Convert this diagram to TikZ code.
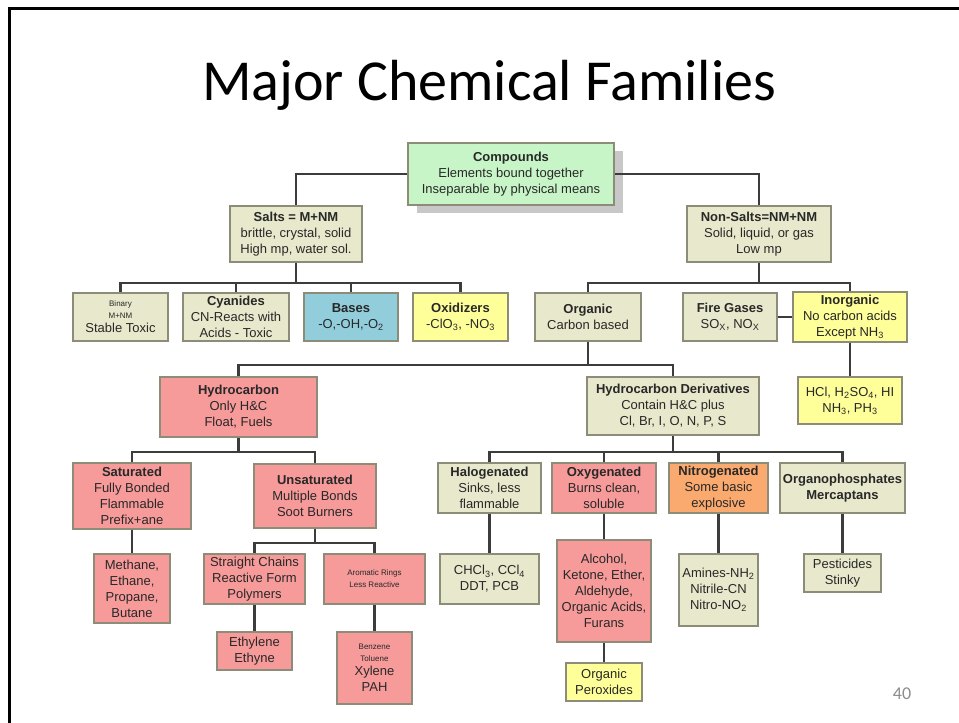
\documentclass[tikz,border=0pt]{standalone}
\usepackage{fontspec}
\setmainfont{Liberation Sans}
\newfontfamily\titlefont{Carlito}
\usetikzlibrary{shadows}
\definecolor{cgreen}{RGB}{200,245,200}
\definecolor{cbeige}{RGB}{232,232,204}
\definecolor{cblue}{RGB}{146,205,220}
\definecolor{cyellow}{RGB}{255,255,153}
\definecolor{cpink}{RGB}{247,154,154}
\definecolor{corange}{RGB}{250,170,110}
\definecolor{cborder}{RGB}{140,140,120}
\definecolor{cconn}{RGB}{60,60,60}
\definecolor{ctext}{RGB}{40,40,40}
\definecolor{cshadow}{RGB}{200,200,200}
\newcommand\chembox[7]{\node[box,fill=#6,minimum width={#4-#2},minimum height={#5-#3}] (#1) at ({(#2+#4)/2},{(#3+#5)/2}) {#7};}
\newcommand\smalltxt[1]{{\fontsize{8}{9}\selectfont #1}}
\begin{document}
\begin{tikzpicture}[x=1pt,y=-1pt,
  box/.style={draw=cborder,line width=1.1pt,inner sep=0pt,align=center,
    font=\fontsize{13}{16}\selectfont,text=ctext},
  conn/.style={draw=cconn,line width=2.6pt}]
\fill[white] (0,0) rectangle (959,723);
\useasboundingbox (0,0) rectangle (959,723);
\draw[line width=3pt] (9,723) -- (9,8) -- (959,8);
\node[anchor=base,font=\titlefont\fontsize{58}{62}\selectfont] (title) at (489,100) {Major Chemical Families};
\node[anchor=base,font=\titlefont\fontsize{18}{20}\selectfont,text=black!45] (pagenum) at (902,699) {40};
% level 1
\node[box,fill=cgreen,minimum width=206,minimum height=62,
  drop shadow={shadow xshift=9pt,shadow yshift=-8pt,fill=cshadow,opacity=1}] (compounds) at (511,174)
  {\textbf{Compounds}\\Elements bound together\\Inseparable by physical means};
\chembox{salts}{230}{206}{362}{262}{cbeige}{\textbf{Salts = M+NM}\\brittle, crystal, solid\\High mp, water sol.}
\chembox{nonsalts}{687}{206}{831}{262}{cbeige}{\textbf{Non-Salts=NM+NM}\\Solid, liquid, or gas\\Low mp}
% level 2
\chembox{binary}{73}{293}{168}{341}{cbeige}{\smalltxt{Binary}\\[-4pt]\smalltxt{M+NM}\\[-2pt]Stable Toxic}
\chembox{cyanides}{183}{293}{289}{341}{cbeige}{\textbf{Cyanides}\\CN-Reacts with\\Acids - Toxic}
\chembox{bases}{304}{293}{398}{341}{cblue}{\textbf{Bases}\\-O,-OH,-O\textsubscript{2}}
\chembox{oxidizers}{413}{293}{508}{341}{cyellow}{\textbf{Oxidizers}\\-ClO\textsubscript{3}, -NO\textsubscript{3}}
\chembox{organic}{535}{293}{641}{341}{cbeige}{\textbf{Organic}\\Carbon based}
\chembox{firegases}{683}{293}{777}{341}{cbeige}{\textbf{Fire Gases}\\SO\textsubscript{X}, NO\textsubscript{X}}
\chembox{inorganic}{793}{292}{907}{342}{cyellow}{\textbf{Inorganic}\\No carbon acids\\Except NH\textsubscript{3}}
% level 3
\chembox{hydrocarbon}{160}{377}{317}{437}{cpink}{\textbf{Hydrocarbon}\\Only H\&C\\Float, Fuels}
\chembox{hcderiv}{587}{377}{759}{435}{cbeige}{\textbf{Hydrocarbon Derivatives}\\Contain H\&C plus\\Cl, Br, I, O, N, P, S}
\chembox{acids}{798}{377}{902}{424}{cyellow}{HCl, H\textsubscript{2}SO\textsubscript{4}, HI\\NH\textsubscript{3}, PH\textsubscript{3}}
% level 4
\chembox{saturated}{73}{463}{191}{529}{cpink}{\textbf{Saturated}\\Fully Bonded\\Flammable\\Prefix+ane}
\chembox{unsaturated}{254}{464}{376}{528}{cpink}{\textbf{Unsaturated}\\Multiple Bonds\\Soot Burners}
\chembox{halogenated}{438}{463}{541}{513}{cbeige}{\textbf{Halogenated}\\Sinks, less\\flammable}
\chembox{oxygenated}{552}{463}{656}{513}{cpink}{\textbf{Oxygenated}\\Burns clean,\\soluble}
\chembox{nitrogenated}{669}{463}{768}{513}{corange}{\textbf{Nitrogenated}\\Some basic\\explosive}
\chembox{organophos}{780}{463}{905}{513}{cbeige}{\textbf{Organophosphates}\\\textbf{Mercaptans}}
% level 5
\chembox{alkanes}{94}{554}{170}{623}{cpink}{Methane,\\Ethane,\\Propane,\\Butane}
\chembox{straight}{204}{554}{305}{604}{cpink}{Straight Chains\\Reactive Form\\Polymers}
\chembox{aromatic}{324}{554}{425}{604}{cpink}{\smalltxt{Aromatic Rings}\\[-4pt]\smalltxt{Less Reactive}}
\chembox{halex}{440}{554}{539}{604}{cbeige}{CHCl\textsubscript{3}, CCl\textsubscript{4}\\DDT, PCB}
\chembox{oxyex}{557}{540}{651}{642}{cpink}{Alcohol,\\Ketone, Ether,\\Aldehyde,\\Organic Acids,\\Furans}
\chembox{nitroex}{679}{554}{758}{626}{cbeige}{Amines-NH\textsubscript{2}\\Nitrile-CN\\Nitro-NO\textsubscript{2}}
\chembox{pesticides}{804}{554}{881}{592}{cbeige}{Pesticides\\Stinky}
% level 6
\chembox{ethylene}{217}{632}{292}{670}{cpink}{Ethylene\\Ethyne}
\chembox{benzene}{337}{632}{412}{704}{cpink}{\smalltxt{Benzene}\\[-4pt]\smalltxt{Toluene}\\[-2pt]Xylene\\PAH}
\chembox{peroxides}{566}{663}{642}{701}{cyellow}{Organic\\Peroxides}
% bus points
\coordinate (bsalts) at (296,283);
\coordinate (bnon) at (759,283);
\coordinate (borg) at (588,365);
\coordinate (bhc) at (238.5,452);
\coordinate (bder) at (673,452);
\coordinate (bunsat) at (315,543);
% connectors
\draw[conn] (compounds.west) -| (salts.north);
\draw[conn] (compounds.east) -| (nonsalts.north);
\draw[conn] (salts.south) -- (bsalts);
\foreach \n in {binary,cyanides,bases,oxidizers} \draw[conn] (\n.north) |- (bsalts);
\draw[conn] (nonsalts.south) -- (bnon);
\foreach \n in {organic,inorganic} \draw[conn] (\n.north) |- (bnon);
\draw[conn] (firegases.east) -- (inorganic.west);
\draw[conn] (inorganic.south) -- (acids.north);
\draw[conn] (organic.south) -- (borg);
\foreach \n in {hydrocarbon,hcderiv} \draw[conn] (\n.north) |- (borg);
\draw[conn] (hydrocarbon.south) -- (bhc);
\foreach \n in {saturated,unsaturated} \draw[conn] (\n.north) |- (bhc);
\draw[conn] (hcderiv.south) -- (bder);
\foreach \n in {halogenated,oxygenated,nitrogenated,organophos} \draw[conn] (\n.north) |- (bder);
\draw[conn] (saturated.south) -- (alkanes.north);
\draw[conn] (unsaturated.south) -- (bunsat);
\foreach \n in {straight,aromatic} \draw[conn] (\n.north) |- (bunsat);
\draw[conn] (straight.south) -- (ethylene.north);
\draw[conn] (aromatic.south) -- (benzene.north);
\draw[conn] (halogenated.south) -- (halex.north);
\draw[conn] (oxygenated.south) -- (oxyex.north);
\draw[conn] (nitrogenated.south) -- (nitroex.north);
\draw[conn] (organophos.south) -- (pesticides.north);
\draw[conn] (oxyex.south) -- (peroxides.north);
\end{tikzpicture}
\end{document}
